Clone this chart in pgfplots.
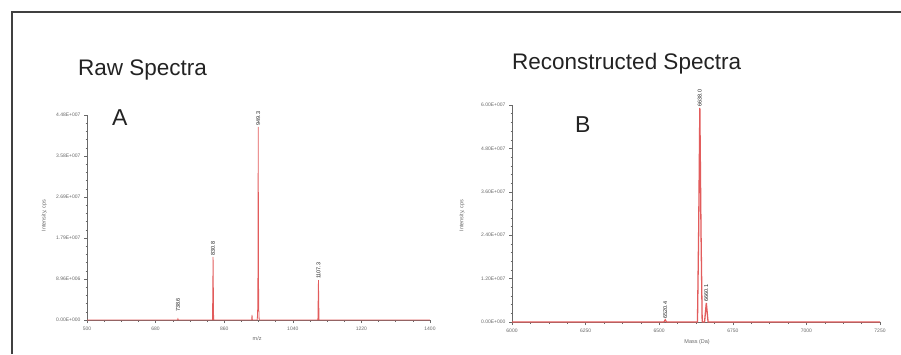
\documentclass[border=0pt]{standalone}
\usepackage{pgfplots}
\pgfplotsset{compat=1.18}
\usepackage{fontspec}
\setmainfont{Liberation Sans}
\definecolor{peak}{RGB}{226,92,92}
\definecolor{axgray}{RGB}{105,105,105}
\definecolor{txt}{RGB}{35,35,35}
\tikzset{plab/.style={rotate=90, anchor=west, inner sep=1pt, font=\fontsize{5.5}{6}\selectfont, text=txt}}
\pgfplotsset{
  spec/.style={
    scale only axis, anchor=south west, clip=false,
    axis lines*=left, axis line style={draw=axgray, line width=0.6pt},
    ymin=0, scaled ticks=false,
    tick align=outside, major tick length=3pt, minor tick length=1.5pt,
    tick style={draw=axgray, line width=0.4pt},
    minor y tick num=4, minor x tick num=3,
    tick label style={font=\fontsize{5}{6}\selectfont, text=axgray},
    label style={font=\fontsize{5.5}{6}\selectfont, text=axgray},
  },
}
\begin{document}
\begin{tikzpicture}[x=1pt,y=1pt]
\useasboundingbox (0,0) rectangle (901,-354);
\fill[white] (0,0) rectangle (901,-354);
\draw[line width=1.3pt, black!75] (12,-354) -- (12,-12) -- (901,-12);
\node[anchor=base west, inner sep=0, font=\fontsize{22.5}{24}\selectfont, text=txt] at (78,-75) {Raw Spectra};
\node[anchor=base west, inner sep=0, font=\fontsize{22.5}{24}\selectfont, text=txt] at (512,-69) {Reconstructed Spectra};
\node[anchor=base west, inner sep=0, font=\fontsize{23}{24}\selectfont, text=txt] at (112,-125) {A};
\node[anchor=base west, inner sep=0, font=\fontsize{23}{24}\selectfont, text=txt] at (575,-132) {B};

\begin{axis}[spec, at={(87pt,-320pt)}, width=343pt, height=205pt,
  xmin=500, xmax=1400, ymax=4.48e7,
  xtick={500,680,860,1040,1220,1400},
  xticklabels={500,680,860,1040,1220,1400},
  ytick={0,8.96e6,1.792e7,2.688e7,3.584e7,4.48e7},
  yticklabels={0.00E+000,8.96E+006,1.79E+007,2.69E+007,3.58E+007,4.48E+007},
  xlabel={m/z}, ylabel={Intensity, cps},
  xlabel style={at={(axis description cs:0.496,-0.088)}, anchor=center},
  ylabel style={at={(axis description cs:-0.125,0.51)}, anchor=center, rotate=0},
]
\addplot[peak, line width=0.8pt, sharp plot] coordinates {
 (500,0) (737.6,0) (738.6,2.5e5) (739.6,0)
 (829.3,0) (830.8,1.38e7) (832.3,0)
 (932,0) (933,1.1e6) (934,0)
 (946.8,0) (948.2,3.2e6) (948.8,1.9e7) (949.3,4.22e7) (949.8,1.9e7) (950.4,3.2e6) (951.8,0)
 (1105.8,0) (1107.3,8.7e6) (1108.8,0)
 (1400,0)};
\node[plab] at (axis cs:738.6,1.5e6) {738.6};
\node[plab] at (axis cs:830.8,1.38e7) {830.8};
\node[plab] at (axis cs:949.3,4.22e7) {949.3};
\node[plab] at (axis cs:1107.3,8.7e6) {1107.3};
\end{axis}

\begin{axis}[spec, at={(512pt,-322pt)}, width=368pt, height=217pt,
  xmin=6000, xmax=7250, ymax=6e7,
  xtick={6000,6250,6500,6750,7000,7250},
  xticklabels={6000,6250,6500,6750,7000,7250},
  ytick={0,1.2e7,2.4e7,3.6e7,4.8e7,6e7},
  yticklabels={0.00E+000,1.20E+007,2.40E+007,3.60E+007,4.80E+007,6.00E+007},
  xlabel={Mass (Da)}, ylabel={Intensity, cps},
  xlabel style={at={(axis description cs:0.503,-0.092)}, anchor=center},
  ylabel style={at={(axis description cs:-0.136,0.49)}, anchor=center, rotate=0},
]
\addplot[peak, line width=1.3pt, sharp plot] coordinates {
 (6000,0) (6516,0) (6520.4,6e5) (6525,0)
 (6630,0) (6634,2.5e7) (6638,5.92e7) (6642,2.5e7) (6646,0)
 (6654,0) (6660,5.3e6) (6666,0)
 (7250,0)};
\node[plab] at (axis cs:6520.4,6e5) {6520.4};
\node[plab] at (axis cs:6638,5.92e7) {6638.0};
\node[plab] at (axis cs:6660,5.3e6) {6660.1};
\end{axis}
\end{tikzpicture}
\end{document}
